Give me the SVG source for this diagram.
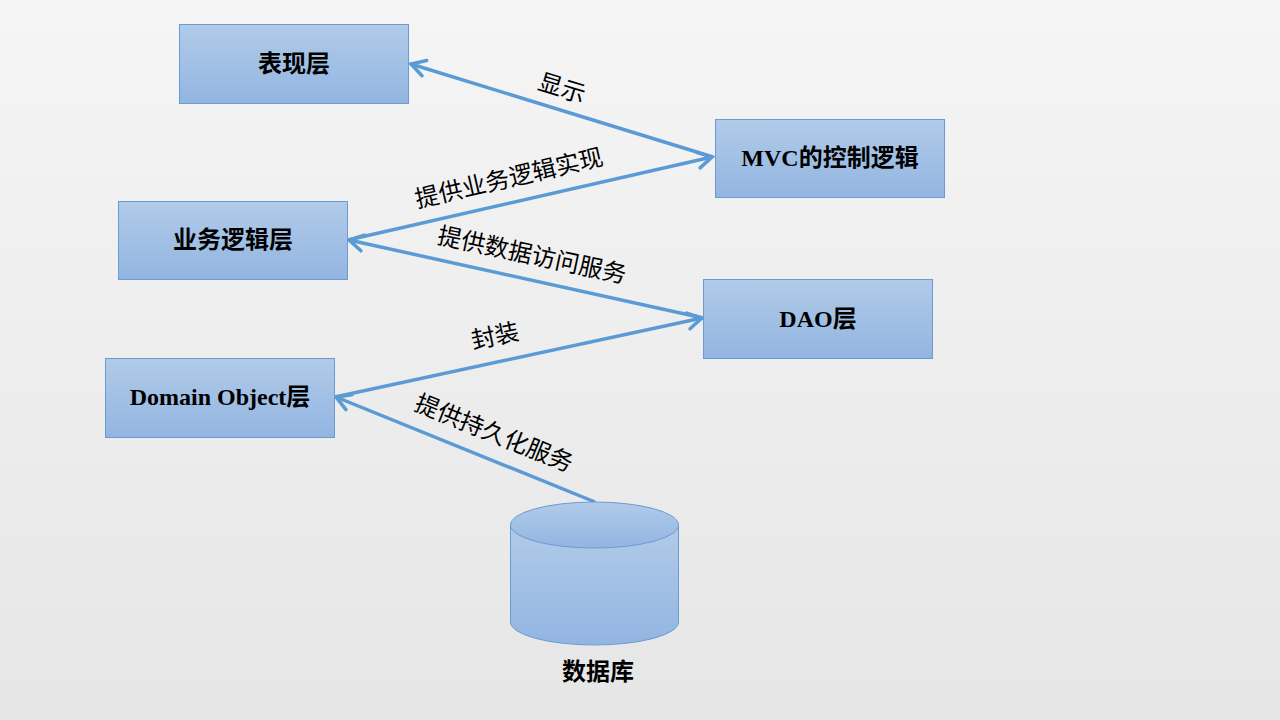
<svg xmlns="http://www.w3.org/2000/svg" width="1280" height="720" viewBox="0 0 1280 720">
<defs>
<linearGradient id="bg" x1="0" y1="0" x2="0" y2="1">
<stop offset="0" stop-color="#f5f5f5"/>
<stop offset="1" stop-color="#e6e6e6"/>
</linearGradient>
<linearGradient id="box" x1="0" y1="0" x2="0" y2="1">
<stop offset="0" stop-color="#b1cbe9"/>
<stop offset="1" stop-color="#92b5e1"/>
</linearGradient>
<marker id="arr" markerUnits="userSpaceOnUse" markerWidth="30" markerHeight="30" viewBox="-20 -15 30 30" refX="0" refY="0" orient="auto">
<path d="M -14 -8 L 0 0 L -14 8" fill="none" stroke="#5b9bd5" stroke-width="3.5" stroke-linecap="round"/>
</marker>
<style>
.node rect, .node path, .node ellipse { fill: url(#box); stroke: #6c9bd2; stroke-width: 1; }
.nt { font-family: "Liberation Serif", "Noto Sans CJK SC", serif; font-weight: bold; font-size: 24px; fill: #000; text-anchor: middle; dominant-baseline: central; }
.lt { font-family: "Liberation Sans", "Noto Sans CJK SC", sans-serif; font-size: 24px; fill: #000; text-anchor: middle; dominant-baseline: central; }
.conn line { stroke: #5b9bd5; stroke-width: 3.5; marker-end: url(#arr); }
</style>
</defs>
<rect x="0" y="0" width="1280" height="720" fill="url(#bg)"/>

<g id="connectors" class="conn">
<line x1="713" y1="157" x2="411" y2="64"/>
<line x1="348" y1="240" x2="712" y2="157"/>
<line x1="703" y1="318" x2="349" y2="240"/>
<line x1="335" y1="397" x2="702" y2="318"/>
<line x1="595" y1="502" x2="336" y2="397"/>
</g>

<g id="labels">
<text class="lt" transform="translate(562,88) rotate(17)">显示</text>
<text class="lt" transform="translate(509,178) rotate(-13)">提供业务逻辑实现</text>
<text class="lt" transform="translate(532,255) rotate(12)">提供数据访问服务</text>
<text class="lt" transform="translate(495,336) rotate(-12)">封装</text>
<text class="lt" transform="translate(494,433) rotate(22)">提供持久化服务</text>
</g>

<g id="node-presentation" class="node">
<rect x="179.5" y="24.5" width="229" height="79"/>
<text class="nt" x="294" y="64">表现层</text>
</g>
<g id="node-mvc" class="node">
<rect x="715.5" y="119.5" width="229" height="78"/>
<text class="nt" x="830" y="158">MVC的控制逻辑</text>
</g>
<g id="node-business" class="node">
<rect x="118.5" y="201.5" width="229" height="78"/>
<text class="nt" x="233" y="240">业务逻辑层</text>
</g>
<g id="node-dao" class="node">
<rect x="703.5" y="279.5" width="229" height="79"/>
<text class="nt" x="818" y="319">DAO层</text>
</g>
<g id="node-domain" class="node">
<rect x="105.5" y="358.5" width="229" height="79"/>
<text class="nt" x="220" y="397">Domain Object层</text>
</g>
<g id="node-db" class="node">
<path d="M 510.5 525 L 510.5 622 A 84 23 0 0 0 678.5 622 L 678.5 525 Z"/>
<ellipse cx="594.5" cy="525" rx="84" ry="23"/>
<text class="nt" x="598" y="672">数据库</text>
</g>
</svg>
